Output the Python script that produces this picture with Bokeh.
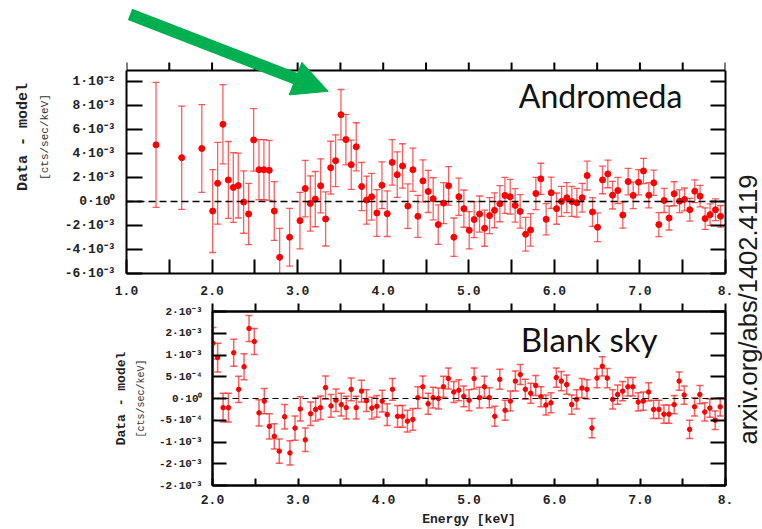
import math
from bokeh.plotting import figure
from bokeh.models import (Range1d, FixedTicker, LinearAxis, Span, Label, Arrow,
                          NormalHead, ColumnDataSource)
from bokeh.layouts import column, row
from bokeh.embed import file_html
from bokeh.resources import INLINE

# ---------------- data (residuals in units of 1e-3 cts/sec/keV) ----------------
andromeda_energy = [
    1.345, 1.645, 1.880, 2.007, 2.065, 2.127, 2.190, 2.248, 2.306, 2.369,
    2.427, 2.486, 2.548, 2.606, 2.668, 2.727, 2.790, 2.906, 3.027, 3.089,
    3.148, 3.206, 3.269, 3.327, 3.386, 3.444, 3.506, 3.564, 3.626, 3.685,
    3.748, 3.806, 3.865, 3.926, 3.985, 4.047, 4.105, 4.164, 4.226, 4.288,
    4.347, 4.405, 4.464, 4.526, 4.584, 4.643, 4.706, 4.764, 4.826, 4.884,
    4.943, 5.005, 5.063, 5.126, 5.185, 5.243, 5.301, 5.363, 5.422, 5.484,
    5.542, 5.600, 5.664, 5.722, 5.784, 5.842, 5.904, 5.963, 6.026, 6.084,
    6.146, 6.204, 6.263, 6.325, 6.383, 6.446, 6.505, 6.563, 6.625, 6.680,
    6.742, 6.800, 6.862, 6.921, 6.984, 7.042, 7.104, 7.162, 7.221, 7.283,
    7.341, 7.400, 7.463, 7.521, 7.583, 7.641, 7.703, 7.762, 7.820, 7.883,
    7.942]
andromeda_resid = [
    4.71, 3.64, 4.41, -0.80, 1.51, 6.42, 1.79, 1.16, 1.32, -0.05,
    -1.05, 5.12, 2.64, 2.64, 2.59, -0.80, -4.65, -2.98, -1.60, 1.07,
    -0.17, 0.19, 1.30, -1.46, 2.81, 3.39, 7.22, 5.15, 3.06, 4.55,
    1.24, 0.11, 0.39, -0.96, 1.35, -1.02, 3.25, 2.23, 2.95, -0.39,
    2.64, -1.24, 1.71, 0.83, 0.22, -1.93, -0.14, 1.30, -2.98, 0.39,
    -0.60, -2.40, -1.51, -1.05, -2.23, -1.18, -0.74, -0.19, 0.50, 0.39,
    -0.33, -0.83, -2.73, -2.37, 0.66, 1.88, -1.49, 0.72, -0.60, 0.00,
    0.31, 0.00, -0.11, 0.31, 2.15, -0.88, -2.15, 1.79, 2.29, 0.52,
    0.91, -1.13, 1.65, 0.50, 1.60, 2.54, 0.52, 1.55, -1.93, 0.08,
    -1.38, 0.64, 0.02, 0.17, -0.69, 0.85, 0.44, -1.43, -1.10, -0.69,
    -1.24]
andromeda_err = [
    5.2, 4.3, 3.65, 3.45, 3.4, 3.3, 3.2, 2.9, 2.7, 2.6,
    2.55, 2.6, 2.5, 2.5, 2.5, 2.45, 2.4, 2.4, 2.35, 2.35,
    2.3, 2.3, 2.25, 2.25, 2.2, 2.15, 2.1, 2.1, 2.05, 2.0,
    2.0, 2.0, 1.95, 1.95, 1.95, 1.9, 1.9, 1.9, 1.85, 1.85,
    1.8, 1.75, 1.75, 1.75, 1.75, 1.65, 1.7, 1.6, 1.6, 1.55,
    1.55, 1.55, 1.5, 1.5, 1.5, 1.5, 1.45, 1.5, 1.5, 1.45,
    1.4, 1.4, 1.4, 1.35, 1.35, 1.3, 1.3, 1.3, 1.3, 1.25,
    1.25, 1.25, 1.2, 1.2, 1.2, 1.2, 1.2, 1.15, 1.15, 1.15,
    1.1, 1.1, 1.1, 1.1, 1.05, 1.05, 1.05, 1.05, 1.0, 1.0,
    1.0, 1.0, 0.95, 0.95, 0.95, 0.95, 0.9, 0.9, 0.9, 0.9,
    0.9]

blank_energy = [
    2.005, 2.060, 2.124, 2.186, 2.248, 2.306, 2.369, 2.427, 2.489, 2.544,
    2.606, 2.665, 2.723, 2.781, 2.844, 2.906, 2.965, 3.027, 3.085, 3.147,
    3.206, 3.264, 3.322, 3.386, 3.444, 3.506, 3.564, 3.622, 3.681, 3.743,
    3.801, 3.864, 3.922, 3.985, 4.043, 4.105, 4.164, 4.222, 4.280, 4.343,
    4.402, 4.460, 4.522, 4.580, 4.643, 4.701, 4.759, 4.822, 4.880, 4.939,
    5.001, 5.060, 5.122, 5.180, 5.238, 5.301, 5.360, 5.422, 5.484, 5.542,
    5.600, 5.659, 5.722, 5.780, 5.842, 5.900, 5.959, 6.021, 6.080, 6.143,
    6.201, 6.259, 6.321, 6.380, 6.438, 6.497, 6.559, 6.617, 6.680, 6.738,
    6.797, 6.859, 6.917, 6.979, 7.038, 7.101, 7.159, 7.221, 7.280, 7.338,
    7.400, 7.458, 7.517, 7.580, 7.638, 7.700, 7.758, 7.817, 7.879, 7.938]
blank_resid = [
    1.27, 0.94, -0.21, -0.21, 1.05, 0.21, 0.73, 1.61, 1.31, -0.33,
    -0.06, -0.64, -0.87, -1.21, -0.42, -1.25, -0.68, -0.24, -0.95, -0.35,
    -0.25, -0.21, 0.25, -0.17, -0.04, -0.14, -0.21, 0.21, -0.21, 0.17,
    -0.05, -0.22, -0.18, -0.06, -0.37, 0.21, -0.41, -0.41, -0.52, -0.48,
    0.02, 0.27, -0.12, 0.02, 0.00, 0.27, 0.46, 0.15, 0.19, 0.05,
    -0.04, 0.46, 0.02, 0.27, 0.02, -0.41, 0.44, -0.27, -0.06, 0.40,
    0.55, 0.21, 0.12, 0.30, 0.04, -0.15, -0.10, 0.48, 0.40, 0.32,
    -0.14, -0.02, 0.24, 0.21, -0.68, 0.47, 0.74, 0.47, -0.02, 0.09,
    0.17, 0.27, 0.27, -0.08, -0.06, 0.15, -0.25, -0.25, -0.36, -0.36,
    -0.14, 0.40, 0.08, -0.71, -0.19, 0.09, -0.31, -0.22, -0.50, -0.19]
blank_err = [
    0.36, 0.33, 0.33, 0.33, 0.31, 0.30, 0.30, 0.30, 0.30, 0.30,
    0.29, 0.29, 0.29, 0.28, 0.28, 0.28, 0.28, 0.28, 0.27, 0.27,
    0.27, 0.27, 0.27, 0.26, 0.26, 0.26, 0.26, 0.26, 0.26, 0.25,
    0.25, 0.25, 0.25, 0.25, 0.25, 0.25, 0.25, 0.25, 0.25, 0.25,
    0.25, 0.25, 0.24, 0.24, 0.24, 0.24, 0.24, 0.24, 0.24, 0.24,
    0.24, 0.24, 0.24, 0.24, 0.23, 0.23, 0.23, 0.23, 0.23, 0.23,
    0.23, 0.23, 0.23, 0.23, 0.23, 0.23, 0.23, 0.22, 0.22, 0.22,
    0.22, 0.22, 0.22, 0.22, 0.22, 0.22, 0.22, 0.22, 0.22, 0.22,
    0.22, 0.21, 0.21, 0.21, 0.21, 0.21, 0.21, 0.21, 0.21, 0.21,
    0.21, 0.21, 0.21, 0.21, 0.21, 0.21, 0.21, 0.21, 0.21, 0.21]

# ---------------- ticks & labels ----------------
top_x_ticks = [1.0, 1.5, 2.0, 2.5, 3.0, 3.5, 4.0, 4.5, 5.0, 5.5, 6.0, 6.5, 7.0, 7.5, 8.0]
top_x_labels = ["1.0", "", "2.0", "", "3.0", "", "4.0", "", "5.0", "", "6.0", "", "7.0", "", "8."]
bot_x_ticks = [2.0, 2.5, 3.0, 3.5, 4.0, 4.5, 5.0, 5.5, 6.0, 6.5, 7.0, 7.5, 8.0]
bot_x_labels = ["2.0", "", "3.0", "", "4.0", "", "5.0", "", "6.0", "", "7.0", "", "8."]
top_y_ticks = [-0.006, -0.004, -0.002, 0.0, 0.002, 0.004, 0.006, 0.008, 0.01]
top_y_labels = ["-6·10⁻³", "-4·10⁻³", "-2·10⁻³", "0·10⁰", "2·10⁻³", "4·10⁻³",
                "6·10⁻³", "8·10⁻³", "1·10⁻²"]
bot_y_ticks = [-0.002, -0.0015, -0.001, -0.0005, 0.0, 0.0005, 0.001, 0.0015, 0.002]
bot_y_labels = ["-2·10⁻³", "-2·10⁻³", "-1·10⁻³", "-5·10⁻⁴", "0·10⁰", "5·10⁻⁴",
                "1·10⁻³", "2·10⁻³", "2·10⁻³"]

MONO = "Liberation Mono"
SANS = "Lato"
RED = "#ff1a1a"
GREEN = "#00b050"
INK = "#222222"
MAIN_W = 733          # width of the two panel figures
SIDE_W = 762 - MAIN_W  # strip on the right carrying the arXiv id

AX = dict(axis_line_color="black", axis_line_width=2,
          major_tick_line_color="black", major_tick_line_width=2,
          minor_tick_line_color=None)
HIDDEN = dict(major_label_text_font_size="0px", major_label_text_color=None,
              major_label_standoff=0)


def tick_labels(font_px):
    return dict(major_label_text_font=MONO, major_label_text_font_size=f"{font_px}px",
                major_label_text_font_style="bold", major_label_text_color=INK)


def y_axes(p, yt, yl, bounds, font_px, tin_left, tin_right, y_standoff,
           unit_px, unit_standoff, title_px, title_standoff):
    left = LinearAxis(ticker=FixedTicker(ticks=yt), major_label_overrides=dict(zip(yt, yl)),
                      major_tick_in=tin_left, major_tick_out=0, bounds=bounds,
                      major_label_standoff=y_standoff, **tick_labels(font_px), **AX,
                      axis_label="[cts/sec/keV]", axis_label_text_font=MONO,
                      axis_label_text_font_size=f"{unit_px}px",
                      axis_label_text_font_style="normal", axis_label_text_color="#333333",
                      axis_label_standoff=unit_standoff)
    outer = LinearAxis(ticker=FixedTicker(ticks=[]), bounds=bounds,
                       axis_line_color=None, major_tick_line_color=None,
                       minor_tick_line_color=None, major_tick_in=0, major_tick_out=0,
                       **HIDDEN,
                       axis_label="Data - model", axis_label_text_font=MONO,
                       axis_label_text_font_size=f"{title_px}px",
                       axis_label_text_font_style="bold", axis_label_text_color=INK,
                       axis_label_standoff=title_standoff)
    right = LinearAxis(ticker=FixedTicker(ticks=yt), major_tick_in=tin_right,
                       major_tick_out=0, bounds=bounds, **HIDDEN, **AX)
    p.add_layout(left, "left")
    p.add_layout(outer, "left")
    p.add_layout(right, "right")


def base_fig(xr, yr, h, bl, bt, bb):
    p = figure(width=MAIN_W, height=h, x_range=Range1d(*xr), y_range=Range1d(*yr),
               x_axis_location=None, y_axis_location=None,
               toolbar_location=None, output_backend="svg",
               min_border_left=bl, min_border_right=MAIN_W - 725, min_border_top=bt,
               min_border_bottom=bb)
    p.frame_align = False
    p.xgrid.visible = False
    p.ygrid.visible = False
    p.background_fill_color = "white"
    p.border_fill_color = "white"
    return p


def draw_series(p, energy, resid, err, dot, cap, lw):
    y = [v * 1e-3 for v in resid]
    lo = [(v - e) * 1e-3 for v, e in zip(resid, err)]
    hi = [(v + e) * 1e-3 for v, e in zip(resid, err)]
    src = ColumnDataSource(dict(x=energy, y=y, lo=lo, hi=hi))
    p.segment(x0="x", y0="lo", x1="x", y1="hi", source=src,
              line_color=RED, line_alpha=0.7, line_width=lw)
    p.scatter(x="x", y="hi", source=src, marker="dash", size=cap,
              line_color=RED, line_alpha=0.7, line_width=lw)
    p.scatter(x="x", y="lo", source=src, marker="dash", size=cap,
              line_color=RED, line_alpha=0.7, line_width=lw)
    p.scatter(x="x", y="y", source=src, marker="circle", size=dot,
              fill_color="#ff0000", line_color="#ff0000")


# ---------------- top panel: Andromeda ----------------
# The frame of this figure reaches the top of the page so that the green arrow
# (which overlaps the panel's upper edge) is not clipped; the panel itself ends
# at y = TOP_YMAX, where its upper edge and outward ticks are drawn.
TOP_YMIN, TOP_YMAX = -0.006, 0.0109
TOP_FRAME_TOP_PX, TOP_PANEL_TOP_PX, TOP_PANEL_BOT_PX = 0, 70, 273
per_px = (TOP_YMAX - TOP_YMIN) / (TOP_PANEL_BOT_PX - TOP_PANEL_TOP_PX)
top_range_max = TOP_YMAX + (TOP_PANEL_TOP_PX - TOP_FRAME_TOP_PX) * per_px

top = base_fig((1.0, 8.0), (TOP_YMIN, top_range_max), 303, 126, 0, 30)
top.outline_line_color = None
top.add_layout(LinearAxis(ticker=FixedTicker(ticks=top_x_ticks),
                          major_label_overrides=dict(zip(top_x_ticks, top_x_labels)),
                          major_tick_in=14, major_tick_out=0, major_label_standoff=12,
                          **tick_labels(13), **AX), "below")
y_axes(top, top_y_ticks, top_y_labels, (TOP_YMIN, TOP_YMAX), 13, 16, 15, 11,
       11, 11, 15, 4)
# upper edge of the panel with its outward ticks
top.add_layout(Span(location=TOP_YMAX, dimension="width", line_color="black", line_width=2))
top.segment(x0=top_x_ticks, y0=[TOP_YMAX] * len(top_x_ticks),
            x1=top_x_ticks, y1=[TOP_YMAX + 8 * per_px] * len(top_x_ticks),
            line_color="black", line_width=2)
top.add_layout(Span(location=0, dimension="width", line_color="black",
                    line_width=1.5, line_dash="7 4"))
draw_series(top, andromeda_energy, andromeda_resid, andromeda_err, 6, 7, 1.3)
top.add_layout(Label(x=5.585, y=0.0088, text="Andromeda", text_font=SANS,
                     text_font_size="32px", text_color="#111111",
                     text_align="left", text_baseline="alphabetic"))
top.add_layout(Arrow(end=NormalHead(size=35, fill_color=GREEN, line_color=GREEN, line_width=1),
                     x_start=1.041, y_start=0.01558, x_end=3.357, y_end=0.00917,
                     line_color=GREEN, line_width=12))

# ---------------- bottom panel: Blank sky ----------------
bot = base_fig((2.0, 8.0), (-0.002, 0.002), 226, 212, 8, 44)
bot.outline_line_color = "black"
bot.outline_line_width = 2
bot_bottom = LinearAxis(ticker=FixedTicker(ticks=bot_x_ticks),
                        major_label_overrides=dict(zip(bot_x_ticks, bot_x_labels)),
                        major_tick_in=7, major_tick_out=0, major_label_standoff=9,
                        **tick_labels(13), **AX,
                        axis_label="Energy [keV]", axis_label_text_font=MONO,
                        axis_label_text_font_size="13px", axis_label_text_font_style="bold",
                        axis_label_text_color=INK, axis_label_standoff=5)
bot.add_layout(bot_bottom, "below")
bot.add_layout(LinearAxis(ticker=FixedTicker(ticks=bot_x_ticks), major_tick_in=0,
                          major_tick_out=8, **HIDDEN, **AX), "above")
y_axes(bot, bot_y_ticks, bot_y_labels, (-0.002, 0.002), 11, 14, 15, 10,
       10, 9, 13, 4)
bot.add_layout(Span(location=0, dimension="width", line_color="black",
                    line_width=1, line_dash="6 4"))
draw_series(bot, blank_energy, blank_resid, blank_err, 4.5, 7, 1.5)
bot.add_layout(Label(x=5.604, y=0.00136, text="Blank sky", text_font=SANS,
                     text_font_size="33px", text_color="#111111",
                     text_align="left", text_baseline="alphabetic"))

# ---------------- right strip: arXiv identifier ----------------
side = figure(width=SIDE_W, height=529, x_range=Range1d(0, SIDE_W), y_range=Range1d(0, 529),
              x_axis_location=None, y_axis_location=None, toolbar_location=None,
              output_backend="svg", min_border=0)
side.frame_align = False
side.outline_line_color = None
side.xgrid.visible = False
side.ygrid.visible = False
side.add_layout(Label(x=SIDE_W / 2, y=529 - 309, text="arxiv.org/abs/1402.4119",
                      text_font="Liberation Sans", text_font_size="25.5px",
                      text_color="#1a1a1a", angle=math.pi / 2,
                      text_align="center", text_baseline="middle"))

layout = row(column(top, bot, spacing=0), side, spacing=0)
open("out.html", "w").write(file_html(layout, INLINE))
